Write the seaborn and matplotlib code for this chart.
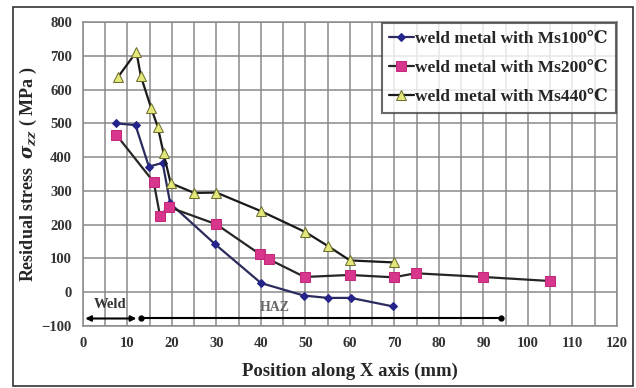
import numpy as np
import pandas as pd
import matplotlib
matplotlib.use("Agg")
import matplotlib.pyplot as plt
import matplotlib.patches as patches
import seaborn as sns

## data
x_ms100 = [7.5, 11.8, 14.8, 17.9, 19.6, 29.7, 40, 49.6, 55, 60.2, 69.6]
y_ms100 = [500, 495, 372, 383, 263, 142, 27, -10, -17, -17, -42]

x_ms200 = [7.5, 15.9, 17.3, 19.3, 30, 39.8, 41.7, 49.8, 60, 69.8, 74.8, 90, 105]
y_ms200 = [466, 326, 227, 252, 201, 112, 98, 45, 51, 44, 56, 45, 33]

x_ms440 = [7.8, 12, 13, 15.3, 16.8, 18.1, 19.7, 25, 30, 40, 50, 55, 60, 70]
y_ms440 = [636, 712, 640, 546, 490, 412, 323, 294, 295, 240, 178, 137, 94, 88]

labels = ["weld metal with Ms100\u2103", "weld metal with Ms200\u2103",
          "weld metal with Ms440\u2103"]

## zone arrows (weld / HAZ) along the bottom
weld_zone = (1, 12)
haz_zone = (13, 94)
zone_y = -78

sns.set_style("white")
plt.rcParams["font.family"] = ["Liberation Serif", "DejaVu Serif"]
plt.rcParams["font.weight"] = "bold"
plt.rcParams["mathtext.fontset"] = "dejavuserif"

fig = plt.figure(figsize=(6.36, 3.88), dpi=100)
ax = fig.add_axes([0.1305, 0.160, 0.8395, 0.783])

df100 = pd.DataFrame({"x": x_ms100, "y": y_ms100})
df200 = pd.DataFrame({"x": x_ms200, "y": y_ms200})
df440 = pd.DataFrame({"x": x_ms440, "y": y_ms440})

sns.lineplot(data=df100, x="x", y="y", ax=ax, sort=False, color="#2b2b5e",
             lw=1.6, marker="D", markersize=4.5, markerfacecolor="#24248a",
             markeredgecolor="#24248a", label=labels[0])
sns.lineplot(data=df200, x="x", y="y", ax=ax, sort=False, color="#262626",
             lw=1.6, marker="s", markersize=6.5, markerfacecolor="#d8368c",
             markeredgecolor="#c42a7a", label=labels[1])
sns.lineplot(data=df440, x="x", y="y", ax=ax, sort=False, color="#1a1a1a",
             lw=1.6, marker="^", markersize=6.5, markerfacecolor="#e4e87c",
             markeredgecolor="#6f7030", label=labels[2])

## weld / HAZ markers
ax.annotate("", xy=(weld_zone[0] - 0.5, zone_y), xytext=(weld_zone[1], zone_y),
            arrowprops=dict(arrowstyle="<|-|>", color="black", lw=1.5,
                            mutation_scale=8, shrinkA=0, shrinkB=0))
ax.plot(list(haz_zone), [zone_y, zone_y], color="black", lw=1.5,
        marker="o", markersize=3.5)
ax.text(6, -38, "Weld", ha="center", va="center", fontsize=10.5,
        fontweight="bold", color="#333333")
ax.text(43, -46, "HAZ", ha="center", va="center", fontsize=10,
        fontweight="bold", color="#666666")

ax.set_xlim(0, 120)
ax.set_ylim(-100, 800)
ax.set_xticks(np.arange(0, 121, 10))
ax.set_xticks(np.arange(0, 121, 5), minor=True)
ax.set_yticks(np.arange(-100, 801, 100))
ax.grid(True, which="both", axis="x", color="#8a8a8a", lw=1.1)
ax.grid(True, which="major", axis="y", color="#8a8a8a", lw=1.1)
ax.set_axisbelow(True)
for s in ax.spines.values():
    s.set_color("#8a8a8a")
    s.set_linewidth(1.1)
ax.tick_params(axis="both", which="major", labelsize=10.5, length=3,
               colors="#8a8a8a", labelcolor="#333333", pad=5)
ax.tick_params(axis="x", which="minor", length=0)
for t in ax.get_xticklabels() + ax.get_yticklabels():
    t.set_fontweight("bold")

ax.set_xlabel("Position along X axis (mm)", fontsize=13.5, fontweight="bold",
              labelpad=9)
ax.set_ylabel("Residual stress  $\\sigma_{zz}$ ( MPa )", fontsize=13,
              fontweight="bold", labelpad=2)

leg = ax.legend(loc="upper right", fontsize=12.5, frameon=True, fancybox=False,
                handlelength=1.4, handletextpad=0.1, borderpad=0.45,
                labelspacing=0.75, borderaxespad=0.05)
leg.get_frame().set_edgecolor("#444444")
leg.get_frame().set_linewidth(1.5)
for t in leg.get_texts():
    t.set_fontweight("bold")

## outer picture border
fig.patches.append(patches.Rectangle((13 / 636, 2 / 388), 620 / 636, 379 / 388,
                                     transform=fig.transFigure, fill=False,
                                     edgecolor="#333333", lw=1.2))

plt.savefig("out.png", dpi=100)
